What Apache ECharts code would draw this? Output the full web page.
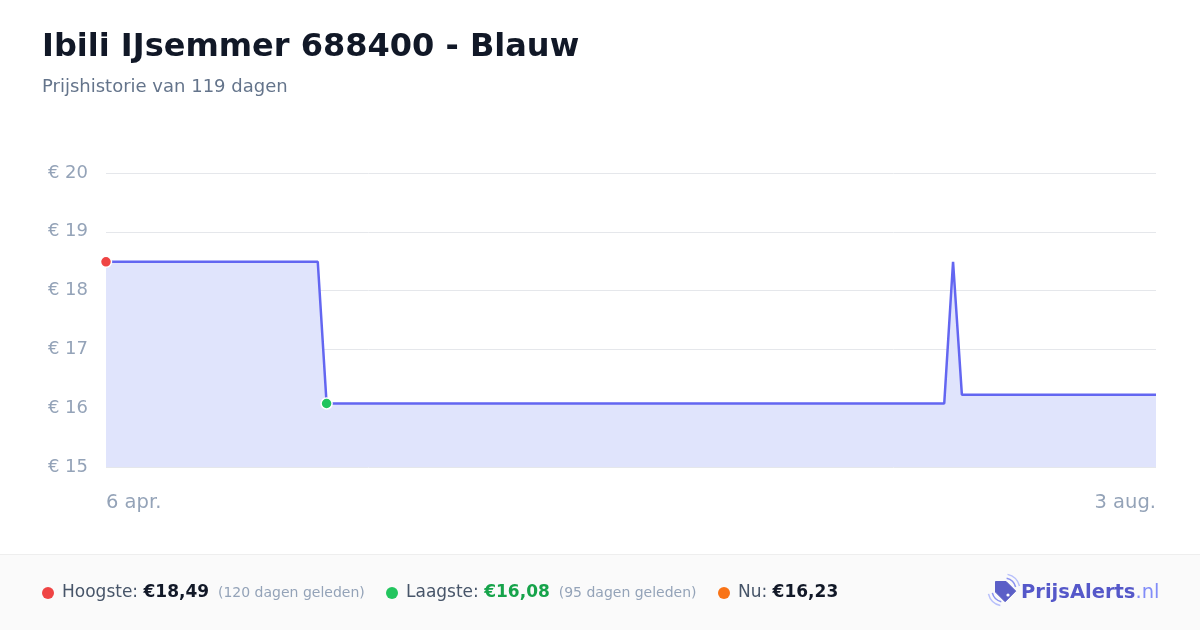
<!DOCTYPE html>
<html><head><meta charset="utf-8">
<script src="https://cdn.jsdelivr.net/npm/echarts@6/dist/echarts.min.js"></script>
<style>html,body{margin:0;padding:0;background:#fff}#c{width:1200px;height:630px}</style>
</head><body><div id="c"></div>
<script>
const dates = ['2024-04-06','2024-04-30','2024-05-01','2024-07-10','2024-07-11','2024-07-12','2024-08-03'];
const prices = [18.49, 18.49, 16.08, 16.08, 18.49, 16.23, 16.23];
const xTickLabels = ['6 apr.', '3 aug.'];
const yTicks = [15, 20, 1];
const highIdx = 0, lowIdx = 2;

const F = 'DejaVu Sans';
const t = d => new Date(d + 'T00:00:00Z').getTime();
const lineData = dates.map((d, i) => [t(d), prices[i]]);
const xMin = t(dates[0]), xMax = t(dates[dates.length - 1]);

function txt(size, color, weight) {
  return {fontFamily: F, fontSize: size, fill: color, fontWeight: weight || 'normal'};
}
// tag icon outline (pointing up-left), centred at (1004,590)
const tagPts = [[-8.5,-8.5],[2.1,-8.5],[11.7,1.1],[1.1,11.7],[-8.5,2.1]].map(p => [1004 + p[0], 590 + p[1]]);

const chart = echarts.init(document.getElementById('c'), null, {renderer: 'canvas'});
chart.setOption({
  animation: false,
  backgroundColor: '#ffffff',
  textStyle: {fontFamily: F},
  grid: {left: 106, right: 44, top: 173, bottom: 163},
  xAxis: {
    type: 'time', min: xMin, max: xMax,
    axisLine: {show: false}, axisTick: {show: false}, splitLine: {show: false},
    axisLabel: {
      showMinLabel: true, showMaxLabel: true,
      alignMinLabel: 'left', alignMaxLabel: 'right',
      color: '#94a3b8', fontSize: 19.5, fontFamily: F, margin: 26,
      formatter: v => v === xMin ? xTickLabels[0] : (v === xMax ? xTickLabels[1] : '')
    }
  },
  yAxis: {
    type: 'value', min: yTicks[0], max: yTicks[1], interval: yTicks[2],
    axisLine: {show: false}, axisTick: {show: false},
    splitLine: {lineStyle: {color: '#e5e7eb', width: 1}},
    axisLabel: {color: '#94a3b8', fontSize: 18, fontFamily: F, margin: 18, formatter: v => '€ ' + v}
  },
  series: [
    {
      type: 'line', data: lineData, showSymbol: false, symbol: 'none',
      lineStyle: {color: '#6366f1', width: 2.5},
      areaStyle: {color: '#e0e4fc', opacity: 1, origin: 'start'},
      z: 2
    },
    {
      type: 'scatter', symbolSize: 11, z: 5,
      data: [
        {value: lineData[highIdx], itemStyle: {color: '#ef4444', borderColor: '#fff', borderWidth: 1.5, opacity: 1}},
        {value: lineData[lowIdx], itemStyle: {color: '#22c55e', borderColor: '#fff', borderWidth: 1.5, opacity: 1}}
      ]
    }
  ],
  graphic: [
    {type: 'text', x: 42, y: 48, style: Object.assign(txt(32, '#111827', 'bold'), {text: 'Ibili IJsemmer 688400 - Blauw', verticalAlign: 'middle'})},
    {type: 'text', x: 42, y: 87, style: Object.assign(txt(18, '#64748b'), {text: 'Prijshistorie van 119 dagen', verticalAlign: 'middle'})},
    {type: 'rect', shape: {x: 0, y: 554, width: 1200, height: 76}, style: {fill: '#fafafa'}},
    {type: 'line', shape: {x1: 0, y1: 554.5, x2: 1200, y2: 554.5}, style: {stroke: '#eeeeee', lineWidth: 1}},
    {type: 'circle', shape: {cx: 48, cy: 593, r: 6}, style: {fill: '#ef4444'}},
    {type: 'text', x: 62, y: 593, style: {
      text: '{l|Hoogste: }{v|€18,49}{s|  (120 dagen geleden)}', verticalAlign: 'middle',
      rich: {l: txt(17, '#475569'), v: txt(17, '#111827', 'bold'), s: txt(14, '#94a3b8')}
    }},
    {type: 'circle', shape: {cx: 392, cy: 593, r: 6}, style: {fill: '#22c55e'}},
    {type: 'text', x: 406, y: 593, style: {
      text: '{l|Laagste: }{v|€16,08}{s|  (95 dagen geleden)}', verticalAlign: 'middle',
      rich: {l: txt(17, '#475569'), v: txt(17, '#16a34a', 'bold'), s: txt(14, '#94a3b8')}
    }},
    {type: 'circle', shape: {cx: 724, cy: 593, r: 6}, style: {fill: '#f97316'}},
    {type: 'text', x: 738, y: 593, style: {
      text: '{l|Nu: }{v|€16,23}', verticalAlign: 'middle',
      rich: {l: txt(17, '#475569'), v: txt(17, '#111827', 'bold')}
    }},
    {type: 'polygon', shape: {points: tagPts}, style: {fill: '#5b5fc7', lineJoin: 'round', stroke: '#5b5fc7', lineWidth: 1}},
    {type: 'circle', shape: {cx: 1008, cy: 595, r: 1.6}, style: {fill: '#ffffff'}},
    {type: 'arc', shape: {cx: 1004, cy: 590, r: 12, startAngle: -1.35, endAngle: -0.25}, style: {stroke: '#8b93f0', lineWidth: 1.5, fill: null}},
    {type: 'arc', shape: {cx: 1004, cy: 590, r: 16, startAngle: -1.35, endAngle: -0.25}, style: {stroke: '#b8c0fb', lineWidth: 1.5, fill: null}},
    {type: 'arc', shape: {cx: 1004, cy: 590, r: 12, startAngle: 1.8, endAngle: 2.9}, style: {stroke: '#8b93f0', lineWidth: 1.5, fill: null}},
    {type: 'arc', shape: {cx: 1004, cy: 590, r: 16, startAngle: 1.8, endAngle: 2.9}, style: {stroke: '#b8c0fb', lineWidth: 1.5, fill: null}},
    {type: 'text', x: 1021, y: 593, style: {
      text: '{a|PrijsAlerts}{b|.nl}', verticalAlign: 'middle',
      rich: {a: txt(19.5, '#5558c9', 'bold'), b: txt(19.5, '#818cf8')}
    }}
  ]
});
</script></body></html>
